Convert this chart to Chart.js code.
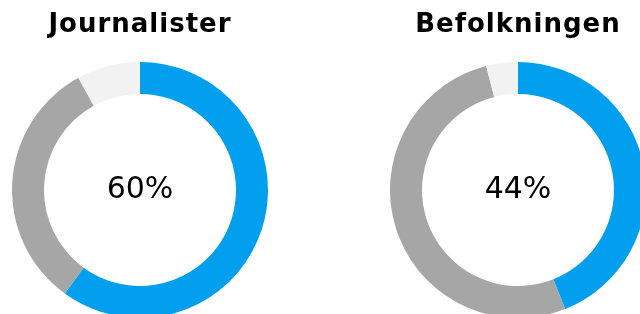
<!DOCTYPE html>
<html>
<head>
<meta charset="utf-8">
<script src="https://cdn.jsdelivr.net/npm/chart.js@4"></script>
<style>
  html, body { margin: 0; padding: 0; background: #fff; }
  body { width: 640px; height: 314px; overflow: hidden; position: relative; }
  canvas { position: absolute; top: 0; }
  #journalisterChart { left: 12px; }
  #befolkningenChart { left: 390px; }
</style>
</head>
<body>
<canvas id="journalisterChart" width="256" height="318"></canvas>
<canvas id="befolkningenChart" width="256" height="318"></canvas>
<script>
// Shares per group (percent)
const categories = ["Ja", "Nej", "Ved ikke"];
const journalisterValues = [60, 32, 8];
const befolkningenValues = [44, 52, 4];
const sliceColors = ["#029FEE", "#A6A6A6", "#F2F2F2"];

// Slightly wider title lettering (closer to Verdana bold)
const titleSpacingPlugin = {
  id: "titleSpacing",
  beforeDraw(chart) {
    chart.ctx.letterSpacing = "1px";
  },
  beforeDatasetsDraw(chart) {
    chart.ctx.letterSpacing = "0px";
  }
};

// Writes the first value in the middle of the ring
const centerTextPlugin = {
  id: "centerText",
  afterDraw(chart) {
    const meta = chart.getDatasetMeta(0);
    if (!meta.data.length) return;
    const { x, y } = meta.data[0];
    const ctx = chart.ctx;
    ctx.save();
    ctx.letterSpacing = "0px";
    ctx.font = "30px 'DejaVu Sans'";
    ctx.fillStyle = "#000";
    ctx.textAlign = "center";
    ctx.textBaseline = "middle";
    ctx.fillText(chart.data.datasets[0].data[0] + "%", x, y);
    ctx.restore();
  }
};

function renderDoughnut(canvasId, title, values) {
  const ctx = document.getElementById(canvasId).getContext("2d");

  return new Chart(ctx, {
    type: "doughnut",
    data: {
      labels: categories,
      datasets: [{
        data: values,
        backgroundColor: sliceColors,
        borderWidth: 0
      }]
    },
    options: {
      responsive: false,
      animation: false,
      cutout: "75%",
      layout: { padding: 0 },
      plugins: {
        legend: { display: false },
        tooltip: { enabled: false },
        title: {
          display: true,
          text: title,
          color: "#000",
          font: { family: "'DejaVu Sans'", size: 26, weight: "bold", lineHeight: 1.2 },
          padding: { top: 10, bottom: 20.8 }
        }
      }
    },
    plugins: [titleSpacingPlugin, centerTextPlugin]
  });
}

renderDoughnut("journalisterChart", "Journalister", journalisterValues);
renderDoughnut("befolkningenChart", "Befolkningen", befolkningenValues);
</script>
</body>
</html>
